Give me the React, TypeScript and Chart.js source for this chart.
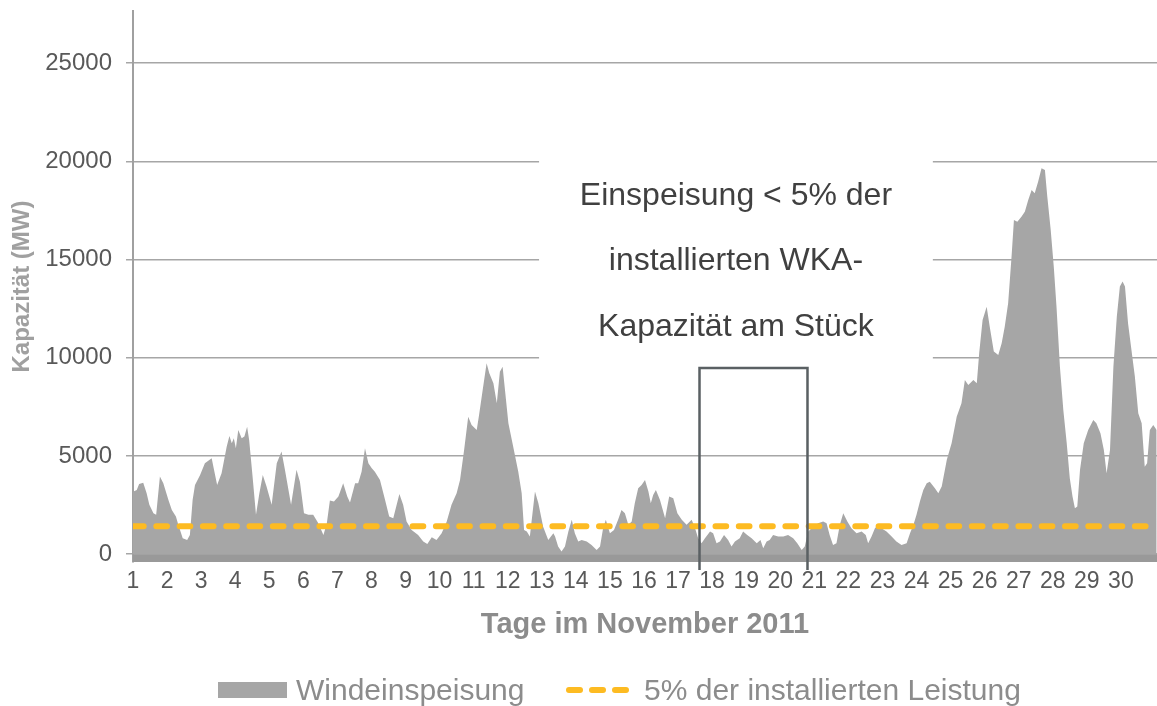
import React, { useEffect, useRef } from "react";
import { Chart, registerables } from "chart.js";

Chart.register(...registerables);

// Time axis: day of November 2011 (fractional days)
const DAYS = [
  1.0, 1.11, 1.18, 1.3, 1.4, 1.48, 1.6, 1.68, 1.79, 1.89, 2.04, 2.14, 2.26, 2.33, 2.46, 2.59, 2.67, 2.75, 2.82, 2.97,
  3.11, 3.31, 3.36, 3.47, 3.6, 3.75, 3.83, 3.9, 3.96, 4.02, 4.09, 4.19, 4.27, 4.35, 4.41, 4.51, 4.61, 4.71, 4.81, 4.92,
  5.07, 5.22, 5.36, 5.46, 5.64, 5.8, 5.9, 6.02, 6.15, 6.29, 6.44, 6.59, 6.69, 6.78, 6.9, 7.03, 7.17, 7.29, 7.37, 7.52,
  7.61, 7.71, 7.81, 7.91, 8.01, 8.1, 8.25, 8.4, 8.52, 8.64, 8.82, 8.93, 9.03, 9.18, 9.37, 9.52, 9.64, 9.77, 9.91, 10.06,
  10.21, 10.35, 10.5, 10.6, 10.72, 10.84, 10.94, 11.09, 11.16, 11.28, 11.38, 11.46, 11.58, 11.68, 11.77, 11.85, 11.92, 12.02, 12.16, 12.31,
  12.41, 12.48, 12.56, 12.65, 12.8, 12.9, 13.04, 13.19, 13.34, 13.39, 13.48, 13.58, 13.68, 13.78, 13.88, 13.97, 14.07, 14.17, 14.32, 14.46,
  14.61, 14.71, 14.8, 14.88, 15.0, 15.12, 15.24, 15.34, 15.44, 15.54, 15.64, 15.73, 15.83, 15.93, 16.03, 16.13, 16.2, 16.27, 16.35, 16.47,
  16.62, 16.74, 16.86, 16.98, 17.11, 17.25, 17.4, 17.5, 17.59, 17.69, 17.79, 17.94, 18.03, 18.13, 18.23, 18.35, 18.47, 18.57, 18.67, 18.81,
  18.91, 19.03, 19.16, 19.31, 19.42, 19.5, 19.6, 19.69, 19.79, 19.94, 20.09, 20.23, 20.38, 20.5, 20.63, 20.72, 20.82, 20.97, 21.11, 21.26,
  21.36, 21.45, 21.55, 21.65, 21.75, 21.85, 21.97, 22.09, 22.24, 22.39, 22.51, 22.58, 22.68, 22.78, 22.88, 22.97, 23.12, 23.27, 23.41, 23.56,
  23.71, 23.81, 23.91, 24.0, 24.1, 24.2, 24.3, 24.39, 24.54, 24.64, 24.74, 24.89, 25.03, 25.18, 25.32, 25.42, 25.52, 25.67, 25.77, 25.84,
  25.94, 26.06, 26.15, 26.27, 26.4, 26.5, 26.59, 26.69, 26.79, 26.86, 26.96, 27.08, 27.18, 27.28, 27.38, 27.47, 27.57, 27.67, 27.77, 27.84,
  27.94, 28.03, 28.11, 28.21, 28.31, 28.41, 28.5, 28.58, 28.65, 28.72, 28.8, 28.91, 29.04, 29.19, 29.28, 29.4, 29.5, 29.58, 29.68, 29.78,
  29.88, 29.97, 30.05, 30.12, 30.21, 30.31, 30.41, 30.51, 30.61, 30.7, 30.77, 30.85, 30.95, 31.05,
];

// Windeinspeisung (MW)
const WIND = [
  3180, 3270, 3575, 3640, 3100, 2510, 2080, 2000, 3950, 3610, 2760, 2250, 1910, 1490, 810, 725, 980, 2760, 3525, 4030,
  4630, 4880, 4450, 3525, 4120, 5470, 6020, 5650, 5900, 5390, 6320, 5900, 5985, 6490, 5815, 3950, 2000, 3100, 4030, 3440,
  2510, 4630, 5220, 4290, 2510, 4290, 3690, 2080, 2000, 2000, 1575, 980, 1575, 2730, 2680, 2930, 3610, 2930, 2625, 3610,
  3610, 4200, 5390, 4630, 4375, 4200, 3780, 2760, 1910, 1830, 3065, 2510, 1660, 1235, 980, 640, 520, 860, 725, 1065,
  1660, 2510, 3100, 3780, 5305, 7000, 6580, 6320, 7090, 8530, 9720, 9210, 8700, 7680, 9290, 9545, 8360, 6665, 5475, 4200,
  3100, 1235, 1150, 895, 3185, 2590, 1400, 725, 1065, 895, 385, 130, 385, 1150, 1745, 1065, 640, 725, 640, 470,
  215, 385, 1320, 1745, 1065, 1235, 1745, 2250, 2080, 1490, 1660, 2590, 3355, 3525, 3780, 3185, 2590, 3015, 3270, 2760,
  1830, 2930, 2845, 2080, 1745, 1490, 1745, 1320, 810, 560, 810, 1150, 1065, 560, 640, 980, 725, 385, 640, 810,
  1150, 980, 810, 560, 725, 300, 640, 725, 980, 895, 895, 980, 810, 560, 215, 385, 1150, 1400, 1575, 1660,
  1575, 980, 470, 560, 1490, 2080, 1660, 1320, 1065, 1150, 980, 560, 895, 1320, 1490, 1320, 1150, 895, 640, 470,
  560, 1065, 1490, 2000, 2675, 3270, 3610, 3690, 3355, 3100, 3440, 4800, 5645, 7000, 7680, 8870, 8615, 8870, 8700, 10230,
  11925, 12600, 11580, 10310, 10140, 10735, 11580, 12770, 15145, 17010, 16925, 17180, 17435, 18030, 18540, 18370, 18960, 19640, 19560, 18200,
  16505, 14635, 12600, 9545, 7340, 5645, 3865, 2930, 2340, 2420, 4290, 5645, 6325, 6835, 6665, 6155, 5305, 4120, 5305, 9545,
  12090, 13620, 13875, 13620, 11755, 10395, 9040, 7175, 6665, 4455, 4630, 6325, 6580, 6325,
];

// 5% der installierten Leistung (MW)
const THRESHOLD = 1420;
const X_RANGE = [1, 31.06];
const Y_RANGE = [-400, 27650];
const Y_TICKS = [0, 5000, 10000, 15000, 20000, 25000];
const DAY_LABELS = [
  1, 2, 3, 4, 5, 6, 7, 8, 9, 10, 11, 12, 13, 14, 15, 16, 17, 18, 19, 20, 21, 22, 23, 24, 25, 26, 27, 28, 29, 30,
];

const NOTE_LINES = ["Einspeisung < 5% der", "installierten WKA-", "Kapazität am Stück"];
// note box (in axis units) and the marked low-wind period
const NOTE_BOX = { x0: 12.92, x1: 24.48, yTop: 20900, yBottom: 9580 };
const LOW_PERIOD = { x0: 17.63, x1: 20.8, yTop: 9480 };

const FONT = '"Liberation Sans", Arial, Helvetica, sans-serif';

const overlayPlugin = {
  id: "overlay",
  beforeDatasetsDraw(chart: any) {
    const { ctx, chartArea, scales } = chart;
    const x = scales.x;
    const y = scales.y;
    ctx.save();
    // darker band below zero
    const y0 = y.getPixelForValue(0);
    ctx.fillStyle = "#999999";
    ctx.fillRect(chartArea.left, y0, chartArea.right - chartArea.left, chartArea.bottom - y0);
    // white note box hiding grid lines
    const bx0 = x.getPixelForValue(NOTE_BOX.x0);
    const bx1 = x.getPixelForValue(NOTE_BOX.x1);
    const by0 = y.getPixelForValue(NOTE_BOX.yTop);
    const by1 = y.getPixelForValue(NOTE_BOX.yBottom);
    ctx.fillStyle = "#ffffff";
    ctx.fillRect(bx0, by0, bx1 - bx0, by1 - by0);
    ctx.fillStyle = "#404040";
    ctx.font = `32px ${FONT}`;
    ctx.textAlign = "center";
    ctx.textBaseline = "middle";
    const cx = (bx0 + bx1) / 2;
    const mid = (y.getPixelForValue(20000) + y.getPixelForValue(10000)) / 2 + 2;
    NOTE_LINES.forEach((t, i) => {
      ctx.fillText(t, cx, mid + (i - 1) * 65.5);
    });
    ctx.restore();
  },
  afterDatasetsDraw(chart: any) {
    const { ctx, chartArea, scales } = chart;
    const x = scales.x;
    const y = scales.y;
    const x0 = x.getPixelForValue(LOW_PERIOD.x0);
    const x1 = x.getPixelForValue(LOW_PERIOD.x1);
    const yt = y.getPixelForValue(LOW_PERIOD.yTop);
    const yb = chartArea.bottom + 8;
    ctx.save();
    ctx.strokeStyle = "#5a6063";
    ctx.lineWidth = 2.5;
    ctx.beginPath();
    ctx.moveTo(x0, yb);
    ctx.lineTo(x0, yt);
    ctx.lineTo(x1, yt);
    ctx.lineTo(x1, yb);
    ctx.stroke();
    ctx.restore();
  },
};

export default function App() {
  const ref = useRef<HTMLCanvasElement | null>(null);

  useEffect(() => {
    if (!ref.current) return;
    const chart = new Chart(ref.current, {
      type: "line",
      data: {
        datasets: [
          {
            label: "5% der installierten Leistung",
            data: [
              { x: X_RANGE[0], y: THRESHOLD },
              { x: X_RANGE[1], y: THRESHOLD },
            ],
            borderColor: "#FDBB22",
            borderWidth: 6,
            borderDash: [10.7, 12.6],
            borderCapStyle: "round",
            pointRadius: 0,
            fill: false,
            order: 0,
          } as any,
          {
            label: "Windeinspeisung",
            data: DAYS.map((d, i) => ({ x: d, y: WIND[i] })),
            borderColor: "rgba(0,0,0,0)",
            borderWidth: 0,
            backgroundColor: "#a6a6a6",
            fill: "origin",
            pointRadius: 0,
            tension: 0,
            order: 1,
          } as any,
        ],
      },
      options: {
        animation: false,
        responsive: false,
        layout: { padding: { left: 0, right: 0, top: 11, bottom: 44 } },
        plugins: {
          legend: { display: false },
          tooltip: { enabled: false },
        },
        scales: {
          x: {
            type: "linear",
            min: X_RANGE[0],
            max: X_RANGE[1],
            grid: { display: false, drawTicks: false },
            border: { display: false },
            afterBuildTicks: (s: any) => {
              s.ticks = DAY_LABELS.map((v) => ({ value: v }));
            },
            ticks: {
              autoSkip: false,
              maxRotation: 0,
              padding: 6,
              color: "#595959",
              font: { size: 23, family: FONT },
              callback: (v: any) => String(v),
            },
            title: {
              display: true,
              text: "Tage im November 2011",
              color: "#8c8c8c",
              font: { size: 29, weight: "bold", family: FONT },
              padding: { top: 0, bottom: 20 },
            },
            afterFit: (s: any) => {
              s.height = 100;
              s.paddingLeft = 0;
              s.paddingRight = 0;
            },
          } as any,
          y: {
            min: Y_RANGE[0],
            max: Y_RANGE[1],
            afterBuildTicks: (s: any) => {
              s.ticks = Y_TICKS.map((v) => ({ value: v }));
            },
            ticks: {
              padding: 14,
              color: "#595959",
              font: { size: 24, family: FONT },
              callback: (v: any) => String(v),
            },
            grid: { color: "#a6a6a6", lineWidth: 1.5, tickLength: 7 },
            border: { color: "#a0a0a0", width: 2 },
            title: {
              display: true,
              text: "Kapazität (MW)",
              color: "#a0a0a0",
              font: { size: 24, weight: "bold", family: FONT },
              padding: { top: 8, bottom: 0 },
            },
            afterFit: (s: any) => {
              s.width = 133;
              s.paddingTop = 0;
              s.paddingBottom = 0;
            },
          } as any,
        },
      },
      plugins: [overlayPlugin],
    });
    return () => chart.destroy();
  }, []);

  const legendText: React.CSSProperties = {
    position: "absolute",
    top: 672,
    font: `30px ${FONT}`,
    lineHeight: "36px",
    color: "#8c8c8c",
    whiteSpace: "nowrap",
  };
  const dash = (left: number): React.CSSProperties => ({
    position: "absolute",
    left,
    top: 687,
    width: 17,
    height: 6,
    borderRadius: 3,
    background: "#FDBB22",
  });

  return (
    <div style={{ position: "absolute", left: 0, top: 0, width: 1157, height: 706, background: "#fff", overflow: "hidden" }}>
      <canvas ref={ref} width={1157} height={706} style={{ display: "block" }} />
      <div style={{ position: "absolute", left: 218, top: 682, width: 69, height: 16, background: "#a6a6a6" }} />
      <div style={{ ...legendText, left: 296 }}>Windeinspeisung</div>
      <div style={dash(566)} />
      <div style={dash(589)} />
      <div style={dash(612)} />
      <div style={{ ...legendText, left: 644 }}>5% der installierten Leistung</div>
    </div>
  );
}
